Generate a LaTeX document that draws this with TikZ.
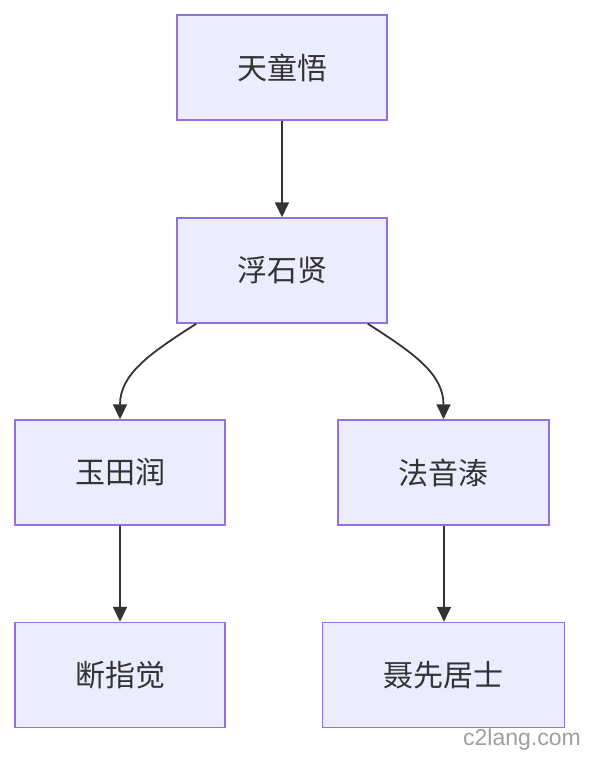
\documentclass[tikz,border=0pt]{standalone}
\usepackage{fontspec}
\newfontfamily\cjk{Noto Sans CJK SC}
\newfontfamily\wmfont{Liberation Sans}
\usetikzlibrary{arrows.meta}
\definecolor{boxfill}{HTML}{ECECFF}
\definecolor{boxline}{HTML}{9370DB}
\definecolor{txt}{HTML}{333333}
\begin{document}
\begin{tikzpicture}[x=1pt,y=1pt,
  box/.style={draw=boxline, fill=boxfill, line width=1.5pt, minimum height=105pt, inner sep=0pt, text=txt, font=\cjk\fontsize{30}{36}\selectfont},
  edge/.style={draw=txt, line width=1.8pt, -{Triangle[length=15pt,width=14pt]}}]
\useasboundingbox (0,0) rectangle (596,-764);
\node[box, minimum width=210pt] (a) at (282,-67.5) {天童悟};
\node[box, minimum width=210pt] (b) at (282,-270.5) {浮石贤};
\node[box, minimum width=210pt] (c) at (120,-472.5) {玉田润};
\node[box, minimum width=211pt] (d) at (443.5,-472.5) {法音溙};
\node[box, minimum width=210pt] (e) at (120,-675) {断指觉};
\node[box, minimum width=242pt] (f) at (443.5,-675) {聂先居士};
\node[text=gray!75, font=\wmfont\fontsize{23}{26}\selectfont, inner sep=0pt] (wm) at (522,-740) {c2lang.com};
\coordinate (bl) at ([xshift=20pt]b.south west);
\coordinate (br) at ([xshift=-20pt]b.south east);
\coordinate (ds) at ([xshift=0.5pt]d.south);
\coordinate (fn) at ([xshift=0.5pt]f.north);
\draw[edge] (a.south) -- (b.north);
\draw[edge] (bl) .. controls ([xshift=-47pt,yshift=-30pt]bl) and ([yshift=45pt]c.north) .. (c.north);
\draw[edge] (br) .. controls ([xshift=47pt,yshift=-30pt]br) and ([yshift=45pt]d.north) .. (d.north);
\draw[edge] (c.south) -- (e.north);
\draw[edge] (ds) -- (fn);
\end{tikzpicture}
\end{document}
